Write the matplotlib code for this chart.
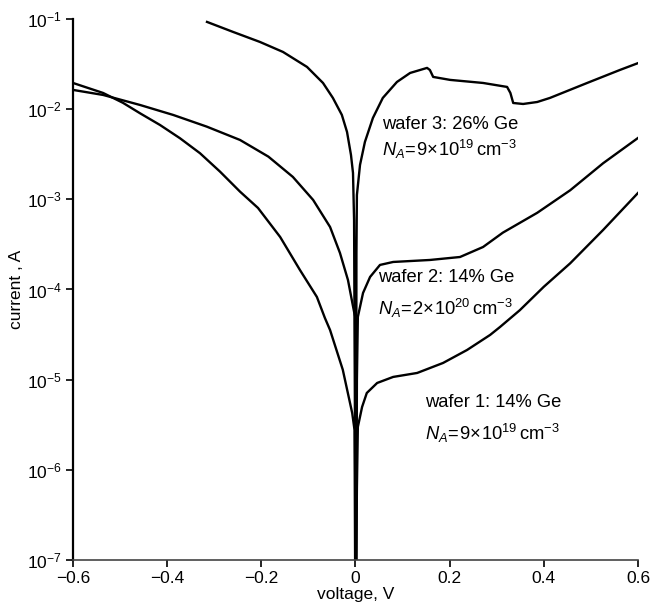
import numpy as np
import matplotlib
matplotlib.use('Agg')
import matplotlib.pyplot as plt

plt.rcParams['font.family'] = 'Liberation Sans'
plt.rcParams['mathtext.fontset'] = 'custom'
plt.rcParams['mathtext.rm'] = 'Liberation Sans'
plt.rcParams['mathtext.it'] = 'Liberation Sans:italic'
plt.rcParams['mathtext.default'] = 'regular'

# wafer 1: 14% Ge, NA=9e19 (voltage V, log10 current A)
V1 = [-0.6, -0.536, -0.494, -0.4577, -0.4152, -0.3728, -0.3303, -0.2878, -0.2453, -0.2071,
      -0.160, -0.118, -0.082, -0.065, -0.054, -0.027, -0.007, -0.002, 0.0, 0.003,
      0.005, 0.014, 0.024, 0.046, 0.080, 0.131, 0.186, 0.237, 0.286, 0.307, 0.349,
      0.40, 0.456, 0.526, 0.6]
L1 = [-1.710, -1.821, -1.93, -2.046, -2.176, -2.323, -2.489, -2.693, -2.915, -3.096,
      -3.418, -3.784, -4.083, -4.316, -4.45, -4.89, -5.37, -5.56, -8.0, -6.2,
      -5.525, -5.303, -5.148, -5.037, -4.970, -4.926, -4.815, -4.671, -4.504, -4.416, -4.23,
      -3.97, -3.71, -3.34, -2.93]

# wafer 2: 14% Ge, NA=2e20
V2 = [-0.6, -0.536, -0.4577, -0.387, -0.316, -0.2453, -0.185, -0.133, -0.090, -0.054,
      -0.033, -0.016, -0.005, -0.001, 0.001, 0.003, 0.005, 0.016, 0.031, 0.052,
      0.080, 0.158, 0.222, 0.271, 0.313, 0.386, 0.456, 0.526, 0.6]
L2 = [-1.787, -1.843, -1.954, -2.065, -2.194, -2.342, -2.527, -2.752, -3.007, -3.307,
      -3.595, -3.895, -4.194, -4.30, -8.0, -5.0, -4.305, -4.039, -3.861, -3.728,
      -3.695, -3.673, -3.640, -3.529, -3.37, -3.15, -2.90, -2.60, -2.32]

# wafer 3: 26% Ge, NA=9e19
V3 = [-0.3154, -0.260, -0.203, -0.154, -0.103, -0.069, -0.048, -0.029, -0.018, -0.0096,
      -0.0053, -0.003, 0.001, 0.002, 0.003, 0.0096, 0.020, 0.037, 0.058, 0.088,
      0.116, 0.152, 0.158, 0.165, 0.201, 0.271, 0.322, 0.329, 0.335, 0.356, 0.386,
      0.413, 0.492, 0.562, 0.6]
L3 = [-1.033, -1.144, -1.255, -1.366, -1.532, -1.710, -1.876, -2.064, -2.253, -2.508,
      -2.708, -3.23, -8.0, -3.6, -2.952, -2.619, -2.364, -2.098, -1.876, -1.699,
      -1.599, -1.543, -1.566, -1.643, -1.676, -1.710, -1.754, -1.821, -1.932, -1.943, -1.921,
      -1.876, -1.71, -1.565, -1.49]

fig = plt.figure(figsize=(6.53, 6.11), dpi=100)
ax = fig.add_axes([0.1118, 0.0835, 0.8652, 0.8855])

for V, L in [(V1, L1), (V2, L2), (V3, L3)]:
    ax.plot(V, 10.0**np.array(L), color='black', lw=1.7, solid_joinstyle='round')

ax.set_yscale('log')
ax.set_xlim(-0.6, 0.6)
ax.set_ylim(1e-7, 1e-1)
ax.set_xticks([-0.6, -0.4, -0.2, 0, 0.2, 0.4, 0.6])
ax.set_xticklabels(['\u22120.6', '\u22120.4', '\u22120.2', '0', '0.2', '0.4', '0.6'])
ax.yaxis.set_minor_locator(matplotlib.ticker.NullLocator())
ax.spines['top'].set_visible(False)
ax.spines['right'].set_visible(False)
ax.spines['left'].set_linewidth(1.6)
ax.spines['bottom'].set_linewidth(1.2)
ax.spines['bottom'].set_color('#444444')
ax.tick_params(direction='out', length=5, width=1.2, labelsize=12.5, pad=3)

ax.set_xlabel('voltage, V', fontsize=12.5, labelpad=1)
ax.set_ylabel('current , A', fontsize=12.5, labelpad=2)

fs = 13.2
na = r'$\mathit{N}_{\mathit{A}}\!=\!%s\!\times\!10^{%s}\,\mathrm{cm}^{-3}$'
ax.text(0.056, 10**-2.176, 'wafer 3: 26% Ge', fontsize=fs, va='center')
ax.text(0.056, 10**-2.45, na % ('9', '19'), fontsize=fs, va='center')
ax.text(0.048, 10**-3.872, 'wafer 2: 14% Ge', fontsize=fs, va='center')
ax.text(0.048, 10**-4.21, na % ('2', '20'), fontsize=fs, va='center')
ax.text(0.148, 10**-5.259, 'wafer 1: 14% Ge', fontsize=fs, va='center')
ax.text(0.148, 10**-5.60, na % ('9', '19'), fontsize=fs, va='center')

fig.savefig('out.png', dpi=100)
